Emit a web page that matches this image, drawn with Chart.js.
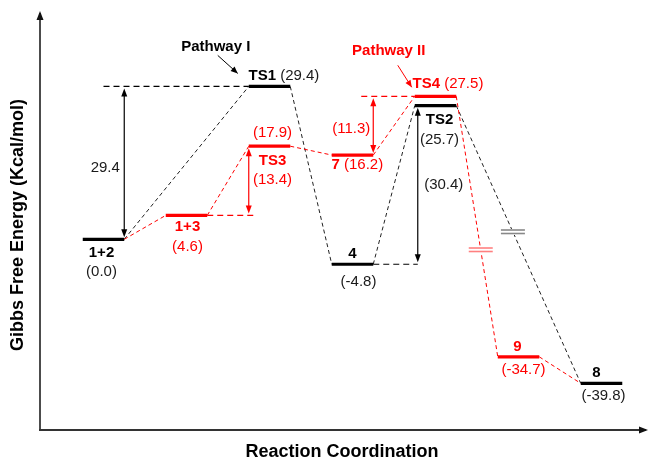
<!DOCTYPE html>
<html><head><meta charset="utf-8">
<script src="https://cdn.jsdelivr.net/npm/chart.js@4.4.0/dist/chart.umd.min.js"></script>
<style>html,body{margin:0;padding:0;background:#fff;}canvas{display:block;}</style>
</head><body>
<canvas id="c" width="648" height="461"></canvas>
<script>
// ---------- DATA ----------
const stateNames    = ['1+2', '1+3', 'TS1', 'TS3', '7',  '4',  'TS2', 'TS4', '9',   '8'];
const stateEnergies = [0.0,   4.6,   29.4,  17.9,  16.2, -4.8, 25.7,  27.5,  -34.7, -39.8];
const stateSlots    = [1,     2,     3,     3,     4,    4,    5,     5,     6,     7];
const pathwayI  = ['1+2', 'TS1', '4', 'TS2', '8'];
const pathwayII = ['1+2', '1+3', 'TS3', '7', 'TS4', '9', '8'];
const barrierFrom   = ['1+2', '1+3', '7', '4'];
const barrierTo     = ['TS1', 'TS3', 'TS4', 'TS2'];
const barrierLabels = ['29.4', '(13.4)', '(11.3)', '(30.4)'];
const pathwayLabels = ['Pathway I', 'Pathway II'];
const pathwayTargets = ['TS1', 'TS4'];
const axisBreakAt = -20;     // energies below this are drawn on the shifted (broken) part of the axis
const axisBreakShift = 12.1;
const xTitle = 'Reaction Coordination';
const yTitle = 'Gibbs Free Energy (Kcal/mol)';

// ---------- STYLE ----------
const RED = '#ff0000', BLACK = '#000000', VALC = '#1a1a1a';
const HALF = 0.25;
const FONT = "'Liberation Sans', Arial, sans-serif";
const labelStyle = {
  '1+2': {name:{dx:-2,dy:14},  val:{dx:-2,dy:33}},
  '1+3': {name:{dx:1,dy:11},   val:{dx:1,dy:31}},
  'TS1': {inline:{dx:-21,dy:-11}},
  'TS3': {name:{dx:3,dy:15},   val:{dx:3,dy:-13}},
  '7':   {inline:{dx:-21,dy:10}},
  '4':   {name:{dx:0,dy:-10},  val:{dx:6,dy:18}},
  'TS2': {name:{dx:4,dy:14},   val:{dx:4,dy:34}},
  'TS4': {inline:{dx:-23,dy:-12}},
  '9':   {name:{dx:-1,dy:-10}, val:{dx:5,dy:13}},
  '8':   {name:{dx:-5,dy:-10}, val:{dx:2,dy:13}}
};

function idx(n){ return stateNames.indexOf(n); }
function disp(v){ return v < axisBreakAt ? v + axisBreakShift : v; }
function isRed(n){ return pathwayI.indexOf(n) < 0; }

function levelPoints(names){
  const pts = [];
  names.forEach(n => {
    const i = idx(n), y = disp(stateEnergies[i]);
    pts.push({x: stateSlots[i]-HALF, y}, {x: stateSlots[i]+HALF, y}, {x: stateSlots[i]+HALF, y: null});
  });
  return pts;
}
function connectorPoints(path){
  const pts = [];
  for (let k = 0; k < path.length-1; k++){
    const a = idx(path[k]), b = idx(path[k+1]);
    pts.push({x: stateSlots[a]+HALF, y: disp(stateEnergies[a])},
             {x: stateSlots[b]-HALF, y: disp(stateEnergies[b])},
             {x: stateSlots[b]-HALF, y: null});
  }
  return pts;
}

function arrowHead(ctx, x, y, dx, dy, len, w){
  const L = Math.hypot(dx, dy), ux = dx/L, uy = dy/L;
  ctx.beginPath();
  ctx.moveTo(x, y);
  ctx.lineTo(x - ux*len - uy*w, y - uy*len + ux*w);
  ctx.lineTo(x - ux*len + uy*w, y - uy*len - ux*w);
  ctx.closePath(); ctx.fill();
}
function line(ctx, x1, y1, x2, y2, color, width, dash){
  ctx.save(); ctx.strokeStyle = color; ctx.lineWidth = width; ctx.setLineDash(dash || []);
  ctx.beginPath(); ctx.moveTo(x1, y1); ctx.lineTo(x2, y2); ctx.stroke(); ctx.restore();
}
function text(ctx, s, x, y, color, bold, align){
  ctx.save(); ctx.fillStyle = color; ctx.font = (bold ? 'bold ' : '') + '15px ' + FONT;
  ctx.textAlign = align || 'center'; ctx.textBaseline = 'middle'; ctx.fillText(s, x, y); ctx.restore();
}

const annotate = {
  id: 'annotate',
  afterDraw(chart){
    const ctx = chart.ctx, xs = chart.scales.x, ys = chart.scales.y, ca = chart.chartArea;
    const px = s => xs.getPixelForValue(s);
    const py = v => ys.getPixelForValue(disp(v));
    const hp = px(1+HALF) - px(1);
    const S = n => { const i = idx(n); return {x: px(stateSlots[i]), y: py(stateEnergies[i]), v: stateEnergies[i]}; };

    // axes with arrows
    ctx.save(); ctx.fillStyle = '#111';
    line(ctx, ca.left, ca.bottom, ca.left, ca.top + 2, '#111', 1.5);
    arrowHead(ctx, ca.left, ca.top, 0, -1, 9, 3.5);
    line(ctx, ca.left - 1, ca.bottom, ca.right - 2, ca.bottom, '#333', 2);
    arrowHead(ctx, ca.right, ca.bottom, 1, 0, 9, 3.5);
    ctx.restore();

    // axis titles
    text(ctx, '', 0, 0, BLACK);
    ctx.save(); ctx.font = 'bold 18px ' + FONT; ctx.fillStyle = BLACK; ctx.textAlign = 'center'; ctx.textBaseline = 'middle';
    ctx.fillText(xTitle, 342, 452);
    ctx.translate(18, 225); ctx.rotate(-Math.PI/2); ctx.fillText(yTitle, 0, 0);
    ctx.restore();

    // axis-break marks on connectors
    const breaks = [{a:'TS2', b:'8', f:0.455, color:'#888'}, {a:'TS4', b:'9', f:0.59, color:'#ff8080'}];
    breaks.forEach(br => {
      const A = S(br.a), B = S(br.b);
      const x1 = A.x + hp, y1 = A.y, x2 = B.x - hp, y2 = B.y;
      const cx = x1 + (x2-x1)*br.f, cy = y1 + (y2-y1)*br.f;
      ctx.save(); ctx.fillStyle = '#fff'; ctx.fillRect(cx-12, cy-3, 24, 6); ctx.restore();
      line(ctx, cx-12, cy-2, cx+12, cy-2, br.color, 1.6);
      line(ctx, cx-12, cy+1.5, cx+12, cy+1.5, br.color, 1.6);
    });

    // barrier arrows
    barrierLabels.forEach((lab, k) => {
      const F = S(barrierFrom[k]), T = S(barrierTo[k]);
      const red = isRed(barrierTo[k]);
      const col = red ? RED : BLACK;
      let ax, lx, ly;
      if (k === 0){ ax = F.x + hp; line(ctx, F.x, T.y, T.x - hp, T.y, BLACK, 1.2, [6,4]); lx = ax - 19; ly = (F.y+T.y)/2 + 5; }
      if (k === 1){ ax = T.x - hp; line(ctx, F.x + hp, F.y, ax + 6, F.y, RED, 1.2, [6,4]); lx = T.x + 3; ly = T.y + 34; }
      if (k === 2){ ax = F.x + hp; line(ctx, ax - 12, T.y, T.x - hp, T.y, RED, 1.2, [6,4]); lx = ax - 22; ly = (F.y+T.y)/2 + 3; }
      if (k === 3){ ax = T.x - hp + 3; line(ctx, F.x + hp, F.y, ax, F.y, BLACK, 1.2, [6,4]); lx = ax + 26; ly = (F.y+T.y)/2; }
      const top = T.y + 2, bot = F.y - 2;
      line(ctx, ax, top + 4, ax, bot - 4, col, 1.2);
      ctx.save(); ctx.fillStyle = col;
      arrowHead(ctx, ax, top, 0, -1, 8, 3);
      arrowHead(ctx, ax, bot, 0, 1, 8, 3);
      ctx.restore();
      text(ctx, lab, lx, ly, red ? RED : VALC, false);
    });

    // state labels
    stateNames.forEach(n => {
      const P = S(n), st = labelStyle[n], red = isRed(n);
      const nameCol = red ? RED : BLACK, valCol = red ? RED : VALC;
      const val = '(' + P.v.toFixed(1) + ')';
      if (st.inline){
        const x0 = P.x + st.inline.dx, y0 = P.y + st.inline.dy;
        ctx.save(); ctx.font = 'bold 15px ' + FONT; const w = ctx.measureText(n + ' ').width; ctx.restore();
        text(ctx, n + ' ', x0, y0, nameCol, true, 'left');
        text(ctx, val, x0 + w, y0, valCol, false, 'left');
      } else {
        text(ctx, n, P.x + st.name.dx, P.y + st.name.dy, nameCol, true);
        text(ctx, val, P.x + st.val.dx, P.y + st.val.dy, valCol, false);
      }
    });

    // pathway pointers
    const pw = [{tx:-33, ty:-40, a:[-31,-31,-11,-13], col:BLACK}, {tx:-26, ty:-45, a:[-17,-31,-3,-9], col:RED}];
    pathwayLabels.forEach((lab, k) => {
      const T = S(pathwayTargets[k]), lx = T.x - hp, p = pw[k];
      text(ctx, lab, lx + p.tx, T.y + p.ty, p.col, true);
      line(ctx, lx + p.a[0], T.y + p.a[1], lx + p.a[2], T.y + p.a[3], p.col, 1);
      ctx.save(); ctx.fillStyle = p.col;
      arrowHead(ctx, lx + p.a[2], T.y + p.a[3], p.a[2]-p.a[0], p.a[3]-p.a[1], 7, 3);
      ctx.restore();
    });
  }
};

const redOnly = pathwayII.filter(n => pathwayI.indexOf(n) < 0);

new Chart(document.getElementById('c'), {
  type: 'scatter',
  data: {
    datasets: [
      {data: levelPoints(pathwayI), showLine: true, borderColor: BLACK, borderWidth: 3.2, pointRadius: 0, spanGaps: false, borderCapStyle: 'butt'},
      {data: levelPoints(redOnly), showLine: true, borderColor: RED, borderWidth: 3.2, pointRadius: 0, spanGaps: false, borderCapStyle: 'butt'},
      {data: connectorPoints(pathwayII), showLine: true, borderColor: RED, borderWidth: 1, borderDash: [4,3], pointRadius: 0, spanGaps: false},
      {data: connectorPoints(pathwayI), showLine: true, borderColor: '#222', borderWidth: 1, borderDash: [4,3], pointRadius: 0, spanGaps: false}
    ]
  },
  options: {
    responsive: false, animation: false, devicePixelRatio: 1,
    layout: {padding: {left: 40, top: 11, right: 0, bottom: 31}},
    plugins: {legend: {display: false}, tooltip: {enabled: false}},
    scales: {
      x: {type: 'linear', display: false, min: 0.235, max: 7.56},
      y: {type: 'linear', display: false, min: -36.67, max: 43.9}
    }
  },
  plugins: [annotate]
});
</script>
</body></html>
